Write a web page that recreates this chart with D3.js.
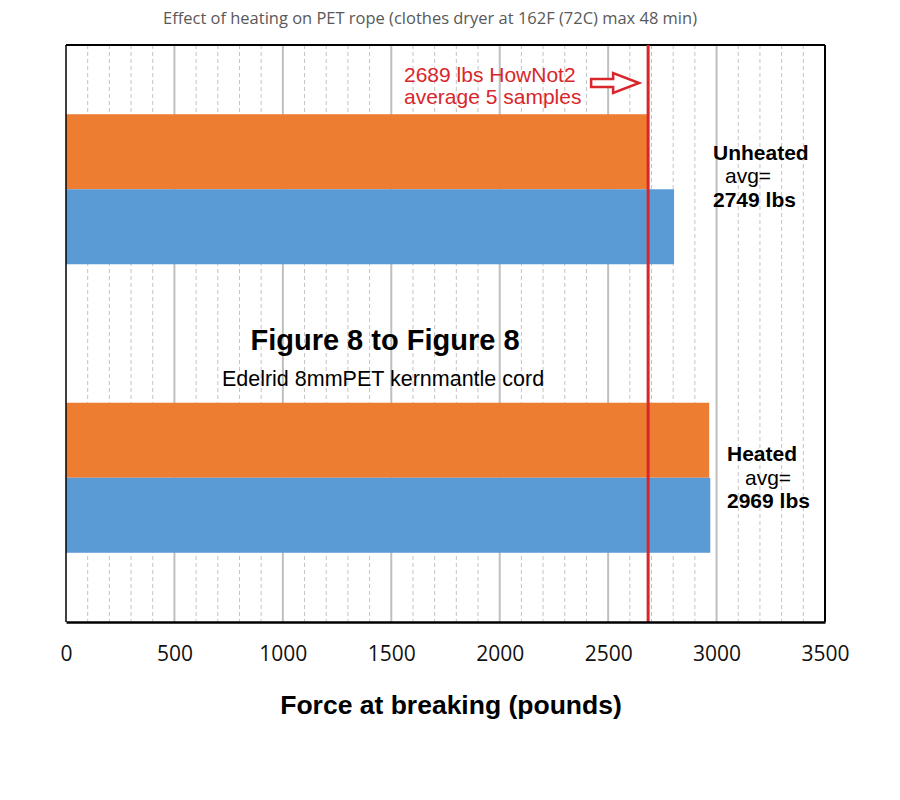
<!DOCTYPE html>
<html><head><meta charset="utf-8">
<script src="https://cdn.jsdelivr.net/npm/d3@7"></script>
<style>body{margin:0;background:#fff}svg{display:block}</style>
</head><body>
<script>
const categories = ["Unheated", "Heated"];
const seriesNames = ["orange", "blue"];
const seriesOrange = [2688, 2966];
const seriesBlue = [2804, 2971];
const averages = [2749, 2969];
const refValue = 2689;
const xTicks = [0, 500, 1000, 1500, 2000, 2500, 3000, 3500];
const minorTicks = d3.range(100, 3500, 100);
const title = "Effect of heating on PET rope (clothes dryer at 162F (72C) max 48 min)";
const xTitle = "Force at breaking (pounds)";

const W = 900, H = 800;
const L = 66, R = 825, T = 45, B = 622;
const colors = {orange: "#ED7D31", blue: "#5B9BD5"};
const red = "#D9262B";

const svg = d3.select("body").append("svg").attr("width", W).attr("height", H);
const x = d3.scaleLinear().domain([0, 3500]).range([L, R]);
const y = d3.scaleBand().domain(categories).range([T, B]).paddingInner(0.48).paddingOuter(0.24);
const ys = d3.scaleBand().domain(seriesNames).range([0, y.bandwidth()]);

svg.append("text").attr("x", 430).attr("y", 24).attr("text-anchor", "middle")
  .attr("font-family", "Open Sans").attr("font-size", 16).attr("fill", "#595959")
  .attr("textLength", 534).attr("lengthAdjust", "spacingAndGlyphs").text(title);

// minor gridlines
svg.append("g").selectAll("line").data(minorTicks.filter(d => d % 500 !== 0)).join("line")
  .attr("x1", d => x(d)).attr("x2", d => x(d)).attr("y1", T).attr("y2", B)
  .attr("stroke", "#c4c4c4").attr("stroke-width", 1).attr("stroke-dasharray", "4,3");
// major gridlines
svg.append("g").selectAll("line").data(xTicks.filter(d => d > 0 && d < 3500)).join("line")
  .attr("x1", d => x(d)).attr("x2", d => x(d)).attr("y1", T).attr("y2", B)
  .attr("stroke", "#bfbfbf").attr("stroke-width", 2);

// bars
const rows = [];
categories.forEach((c, i) => {
  rows.push({cat: c, s: "orange", v: seriesOrange[i]});
  rows.push({cat: c, s: "blue", v: seriesBlue[i]});
});
svg.append("g").selectAll("rect").data(rows).join("rect")
  .attr("x", x(0)).attr("y", d => y(d.cat) + ys(d.s))
  .attr("width", d => x(d.v) - x(0)).attr("height", ys.bandwidth())
  .attr("fill", d => colors[d.s]);

// frame
svg.append("line").attr("x1", L).attr("x2", R).attr("y1", T).attr("y2", T).attr("stroke", "#000").attr("stroke-width", 2);
svg.append("line").attr("x1", R).attr("x2", R).attr("y1", T).attr("y2", B).attr("stroke", "#000").attr("stroke-width", 2);
svg.append("line").attr("x1", L).attr("x2", L).attr("y1", T).attr("y2", B).attr("stroke", "#000").attr("stroke-width", 1.5);

// reference line
svg.append("line").attr("x1", x(refValue) - 1).attr("x2", x(refValue) - 1).attr("y1", T).attr("y2", B)
  .attr("stroke", red).attr("stroke-width", 3);

// x axis
const xAxis = d3.axisBottom(x).tickValues(xTicks).tickSize(0).tickPadding(24).tickFormat(d3.format("d"));
const gx = svg.append("g").attr("transform", `translate(0,${B})`).call(xAxis);
gx.select(".domain").attr("stroke", "#000").attr("stroke-width", 2.5);
gx.selectAll("text").attr("font-family", "Open Sans").attr("font-size", 21).attr("fill", "#111");

svg.append("text").attr("x", 451).attr("y", 714).attr("text-anchor", "middle")
  .attr("font-family", "Liberation Sans").attr("font-weight", "bold").attr("font-size", 26.5).attr("fill", "#000").text(xTitle);

// center labels
svg.append("text").attr("x", 385).attr("y", 350).attr("text-anchor", "middle")
  .attr("font-family", "Liberation Sans").attr("font-weight", "bold").attr("font-size", 29).text("Figure 8 to Figure 8");
svg.append("text").attr("x", 383).attr("y", 386).attr("text-anchor", "middle")
  .attr("font-family", "Liberation Sans").attr("font-size", 21.5).text("Edelrid 8mmPET kernmantle cord");

// reference annotation
const ann = svg.append("g").attr("font-family", "Liberation Sans").attr("font-size", 21).attr("fill", red);
ann.append("text").attr("x", 404).attr("y", 82).text(refValue + " lbs HowNot2");
ann.append("text").attr("x", 404).attr("y", 104).text("average 5 samples");
const tip = x(refValue) - 10, ax0 = tip - 48, hx = tip - 26, cy = 83;
svg.append("path")
  .attr("d", `M${ax0},${cy-4} L${hx},${cy-4} L${hx},${cy-10} L${tip},${cy} L${hx},${cy+10} L${hx},${cy+4} L${ax0},${cy+4} Z`)
  .attr("fill", "#fff").attr("stroke", red).attr("stroke-width", 2.5);

// group labels
const lab = [
  {cat: 0, lines: [["Unheated", true, 713, 160], ["avg=", false, 725, 183], [averages[0] + " lbs", true, 713, 207]]},
  {cat: 1, lines: [["Heated", true, 727, 461], ["avg=", false, 745, 485], [averages[1] + " lbs", true, 727, 508]]}
];
lab.forEach(g => g.lines.forEach(([t, b, lx, ly]) => {
  svg.append("text").attr("x", lx).attr("y", ly).attr("font-family", "Liberation Sans")
    .attr("font-size", 21).attr("font-weight", b ? "bold" : "normal").attr("fill", "#000").text(t);
}));
</script>
</body></html>
